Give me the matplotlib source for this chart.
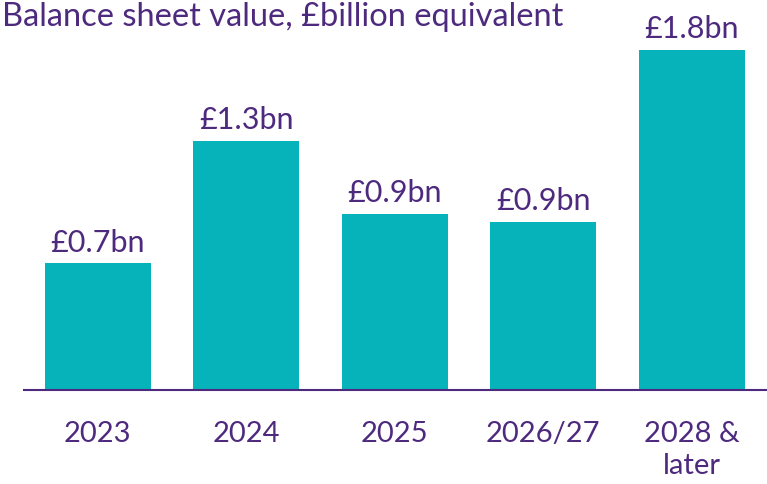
import matplotlib
matplotlib.use("Agg")
from matplotlib import pyplot as plt

categories = ["2023", "2024", "2025", "2026/27", "2028 &\nlater"]
values = [0.67, 1.32, 0.93, 0.89, 1.80]

teal = "#07B3BA"
purple = "#4E2A7E"

plt.rcParams["font.family"] = ["Lato", "DejaVu Sans"]

fig = plt.figure(figsize=(7.67, 4.84), dpi=100)
ax = fig.add_axes([23.5 / 767, 1 - 390 / 484, (766 - 23.5) / 767, 390 / 484])

x = range(len(categories))
bars = ax.bar(x, values, width=0.714, color=teal)

ax.set_xlim(-0.5, 4.5)
ax.set_ylim(0, 1.8 * 390 / 340)

for b, v in zip(bars, values):
    ax.annotate(f"£{v:.1f}bn", (b.get_x() + b.get_width() / 2, v),
                xytext=(0, 5), textcoords="offset points",
                ha="center", va="bottom", fontsize=22, color=purple)

ax.set_xticks(list(x))
ax.set_xticklabels(categories, fontsize=21, color=purple, linespacing=1.3)
ax.tick_params(axis="x", length=0, pad=22)
ax.set_yticks([])

for side in ["top", "right", "left"]:
    ax.spines[side].set_visible(False)
ax.spines["bottom"].set_color(purple)
ax.spines["bottom"].set_linewidth(1.5)

fig.text(2 / 767, 1 - 2 / 484, "Balance sheet value, £billion equivalent",
         ha="left", va="top", fontsize=23.5, color=purple)

fig.savefig("out.png", dpi=100)
